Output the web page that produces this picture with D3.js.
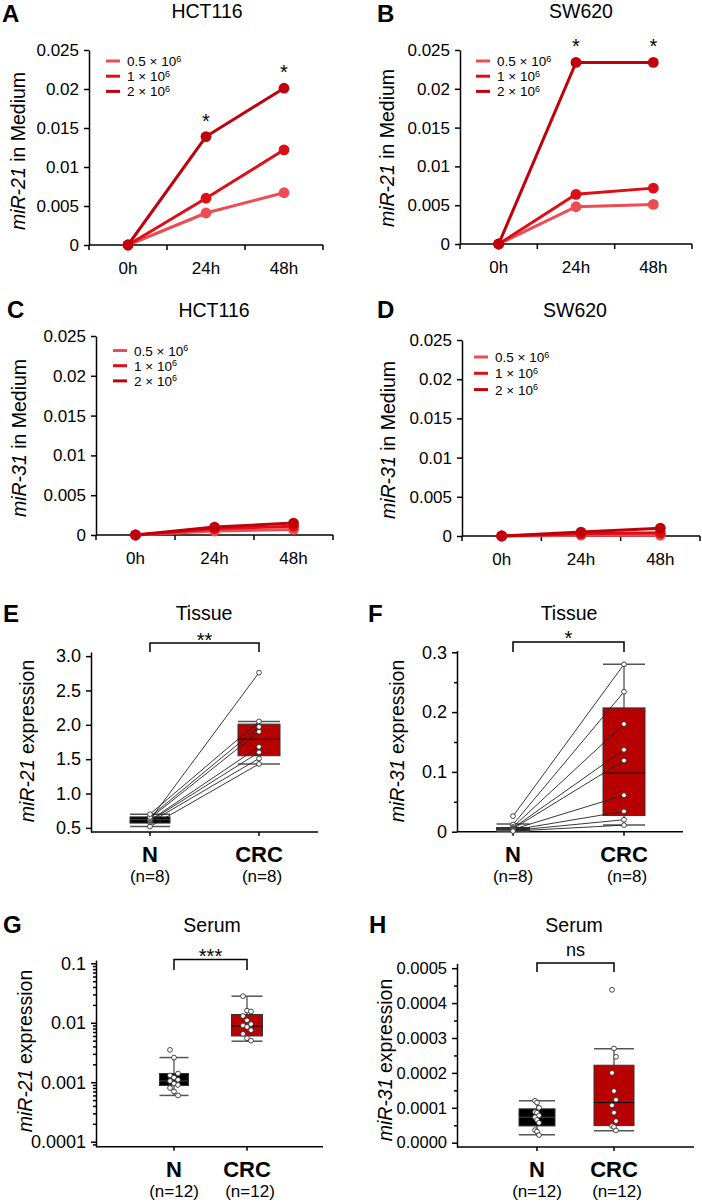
<!DOCTYPE html>
<html>
<head>
<meta charset="utf-8">
<script src="https://cdn.jsdelivr.net/npm/d3@7"></script>
<style>
body { margin: 0; background: #fff; }
svg { font-family: Arial, "Liberation Sans", sans-serif; }
</style>
</head>
<body>
<svg id="fig" width="702" height="1203"></svg>
<script>
// ---- data ----
var times = ['0h', '24h', '48h'];
var densities = ['0.5', '1', '2'];          // x 10^6 cells
var seriesColors = ['#ef4b53', '#de0d16', '#c0000a'];
var mediumTicks = [0, 0.005, 0.01, 0.015, 0.02, 0.025];

// rows = densities, columns = times
var hct116miR21 = [[0, 0.0041, 0.0067], [0, 0.0060, 0.0122], [0, 0.0139, 0.0201]];
var sw620miR21  = [[0, 0.0048, 0.0051], [0, 0.0064, 0.0072], [0, 0.0234, 0.0234]];
var hct116miR31 = [[0, 0.0005, 0.0007], [0, 0.0008, 0.0011], [0, 0.0010, 0.0015]];
var sw620miR31  = [[0, 0.0001, 0.0001], [0, 0.0003, 0.0004], [0, 0.0005, 0.0010]];
var starsA = ['', '*', '*'];
var starsB = ['', '*', '*'];

var groups = ['N', 'CRC'];
var groupColors = ['#000000', '#b70000'];
var tissueN = ['(n=8)', '(n=8)'];
var serumN = ['(n=12)', '(n=12)'];

// tissue, paired samples (same index = same patient)
var tissue21N   = [0.52, 0.58, 0.60, 0.61, 0.62, 0.64, 0.66, 0.70];
var tissue21CRC = [1.43, 1.51, 1.60, 1.68, 2.76, 1.90, 1.97, 2.05];
var tissue21BoxN   = [0.52, 0.57, 0.62, 0.66, 0.70];   // low, q1, median, q3, high
var tissue21BoxCRC = [1.43, 1.55, 1.79, 2.01, 2.05];

var tissue31N   = [0.026, 0.012, 0.008, 0.006, 0.005, 0.004, 0.003, 0.002, 0.001];
var tissue31CRC = [0.280, 0.234, 0.180, 0.137, 0.119, 0.061, 0.034, 0.020, 0.011];
var tissue31BoxN   = [0.001, 0.003, 0.005, 0.007, 0.013];
var tissue31BoxCRC = [0.011, 0.027, 0.098, 0.207, 0.280];

var serum21N   = [0.0035, 0.0026, 0.0014, 0.0013, 0.0012, 0.0011, 0.00105, 0.00095, 0.0009, 0.0008, 0.0007, 0.0006];
var serum21CRC = [0.028, 0.016, 0.0155, 0.013, 0.011, 0.0095, 0.009, 0.0085, 0.0075, 0.0065, 0.0055, 0.005];
var serum21BoxN   = [0.0006, 0.00088, 0.00105, 0.0014, 0.0026];
var serum21BoxCRC = [0.0049, 0.006, 0.0088, 0.0138, 0.028];

var serum31N   = [0.00012, 0.000115, 0.0001, 0.000088, 0.000086, 0.000078, 0.000073, 0.000065, 0.000057, 0.000036, 0.000032, 0.000022];
var serum31CRC = [0.000438, 0.00027, 0.000246, 0.0002, 0.000148, 0.000123, 0.000107, 0.000086, 0.000062, 0.000048, 0.000045, 0.000035];
var serum31BoxN   = [0.000023, 0.000048, 0.000073, 0.000097, 0.00012];
var serum31BoxCRC = [0.0000345, 0.000049, 0.000115, 0.000222, 0.000269];

var svg = d3.select('#fig');

function styleAxis(sel, size){
  sel.selectAll('path,line').attr('stroke', '#000').attr('stroke-width', 1.5);
  sel.selectAll('text').attr('fill', '#000').attr('font-size', size);
  sel.attr('font-family', null);
}

function yLabel(g, cx, cy, gene, rest){
  var t = g.append('text')
    .attr('transform', 'translate(' + cx + ',' + cy + ') rotate(-90)')
    .attr('text-anchor', 'middle').attr('dy', '0.35em').attr('font-size', 19.5);
  t.append('tspan').attr('font-style', 'italic').text(gene);
  t.append('tspan').text('\u00a0' + rest);
}

function panelText(g, p){
  g.append('text').attr('x', p.letterX).attr('y', p.letterY)
    .attr('font-size', 24).attr('font-weight', 'bold').text(p.letter);
  g.append('text').attr('x', p.titleX).attr('y', p.titleY)
    .attr('text-anchor', 'middle').attr('font-size', 19.5).text(p.title);
}

function linePanel(p){
  var g = svg.append('g');
  var x = d3.scaleBand().domain(times).range([p.x0, p.x1]);
  var y = d3.scaleLinear().domain([0, 0.025]).range([p.y0, p.yTop]);
  var cx = function(j){ return x(times[j]) + x.bandwidth() / 2; };

  var ya = g.append('g').attr('transform', 'translate(' + p.x0 + ',0)')
    .call(d3.axisLeft(y).tickValues(mediumTicks).tickSize(5).tickSizeOuter(0).tickPadding(5)
      .tickFormat(function(d){ return d === 0 ? '0' : String(d); }));
  styleAxis(ya, 17);

  g.append('line').attr('x1', p.x0).attr('x2', p.x1).attr('y1', p.y0).attr('y2', p.y0)
    .attr('stroke', '#000').attr('stroke-width', 1.5);
  var edges = times.map(function(t){ return x(t); }).concat([p.x1]);
  g.selectAll('.xt').data(edges).enter().append('line')
    .attr('x1', function(d){ return d; }).attr('x2', function(d){ return d; })
    .attr('y1', p.y0).attr('y2', p.y0 + 5).attr('stroke', '#000').attr('stroke-width', 1.5);
  g.selectAll('.xl').data(times).enter().append('text')
    .attr('x', function(d, j){ return cx(j); }).attr('y', p.y0 + 29)
    .attr('text-anchor', 'middle').attr('font-size', 17).text(function(d){ return d; });

  var line = d3.line().x(function(d, j){ return cx(j); }).y(function(d){ return y(d); });
  p.data.forEach(function(vals, i){
    g.append('path').attr('d', line(vals)).attr('fill', 'none')
      .attr('stroke', seriesColors[i]).attr('stroke-width', 3);
    g.selectAll('.pt' + i).data(vals).enter().append('circle')
      .attr('cx', function(d, j){ return cx(j); }).attr('cy', function(d){ return y(d); })
      .attr('r', 5.4).attr('fill', seriesColors[i]);
  });

  if (p.stars){
    var top = p.data[p.data.length - 1];
    p.stars.forEach(function(s, j){
      if (!s) return;
      g.append('text').attr('x', cx(j)).attr('y', y(top[j]) - 9)
        .attr('text-anchor', 'middle').attr('font-size', 20).text(s);
    });
  }

  densities.forEach(function(d, i){
    var ly = p.legY + i * p.legDy;
    g.append('line').attr('x1', p.legX).attr('x2', p.legX + 14).attr('y1', ly).attr('y2', ly)
      .attr('stroke', seriesColors[i]).attr('stroke-width', 3);
    var t = g.append('text').attr('x', p.legX + 21).attr('y', ly + 5).attr('font-size', 13.5);
    t.append('tspan').text(d + ' \u00d7 10');
    t.append('tspan').attr('dy', -4.5).attr('font-size', 9).text('6');
  });

  panelText(g, p);
  yLabel(g, p.labX, p.labY, p.gene, 'in Medium');
}

function boxPanel(p){
  var g = svg.append('g');
  var x = d3.scalePoint().domain(groups).range([p.xN, p.xCRC]);
  var y = (p.log ? d3.scaleLog() : d3.scaleLinear()).domain(p.domain).range([p.yBottom, p.yTop]);

  var ya = g.append('g').attr('transform', 'translate(' + p.ax + ',0)')
    .call(d3.axisLeft(y).tickValues(p.ticks).tickSize(5).tickSizeOuter(0).tickPadding(5).tickFormat(p.fmt));
  styleAxis(ya, p.tickFont || 18);
  if (p.minor){
    var ym = g.append('g').attr('transform', 'translate(' + p.ax + ',0)')
      .call(d3.axisLeft(y).tickValues(p.minor).tickSize(3).tickFormat(''));
    ym.select('.domain').remove();
    styleAxis(ym, 10);
  }

  g.append('line').attr('x1', p.ax).attr('x2', p.xEnd).attr('y1', p.yBottom).attr('y2', p.yBottom)
    .attr('stroke', '#000').attr('stroke-width', 1.5);
  groups.forEach(function(k, i){
    g.append('line').attr('x1', x(k)).attr('x2', x(k)).attr('y1', p.yBottom).attr('y2', p.yBottom + 4)
      .attr('stroke', '#000').attr('stroke-width', 1.5);
    g.append('text').attr('x', x(k)).attr('y', p.catY).attr('text-anchor', 'middle')
      .attr('font-size', 22).attr('font-weight', 'bold').text(k);
    g.append('text').attr('x', x(k) + (i ? 3 : 0)).attr('y', p.catY + 20).attr('text-anchor', 'middle')
      .attr('font-size', 17).text(p.nLabels[i]);
  });

  // boxes
  groups.forEach(function(k, i){
    var b = p.boxes[i], w = p.boxW[i], c = x(k);
    g.append('line').attr('x1', c).attr('x2', c).attr('y1', y(b[0])).attr('y2', y(b[4]))
      .attr('stroke', '#444').attr('stroke-width', 1.2);
    [b[0], b[4]].forEach(function(v){
      g.append('line').attr('x1', c - w / 2).attr('x2', c + w / 2).attr('y1', y(v)).attr('y2', y(v))
        .attr('stroke', '#555').attr('stroke-width', 1.5);
    });
    g.append('rect').attr('x', c - w / 2).attr('width', w)
      .attr('y', y(b[3])).attr('height', y(b[1]) - y(b[3]))
      .attr('fill', groupColors[i]).attr('stroke', '#333').attr('stroke-width', 1);
    g.append('line').attr('x1', c - w / 2).attr('x2', c + w / 2).attr('y1', y(b[2])).attr('y2', y(b[2]))
      .attr('stroke', i ? '#000' : '#444').attr('stroke-width', 1);
  });

  if (p.paired){
    p.points[0].forEach(function(v, j){
      g.append('line').attr('x1', x('N')).attr('y1', y(v)).attr('x2', x('CRC')).attr('y2', y(p.points[1][j]))
        .attr('stroke', '#222').attr('stroke-width', 0.9);
    });
  }
  groups.forEach(function(k, i){
    g.selectAll('.p' + i).data(p.points[i]).enter().append('circle')
      .attr('cx', function(d, j){ return x(k) + ((j % 3) - 1) * p.jitter; })
      .attr('cy', function(d){ return y(d); })
      .attr('r', 2.4).attr('fill', '#fff').attr('stroke', '#333').attr('stroke-width', 0.9);
  });

  // significance bracket
  g.append('path')
    .attr('d', 'M' + x('N') + ',' + p.brLow + 'V' + p.brTop + 'H' + x('CRC') + 'V' + p.brLow)
    .attr('fill', 'none').attr('stroke', '#000').attr('stroke-width', 1.5);
  g.append('text').attr('x', (x('N') + x('CRC')) / 2).attr('y', p.sigY)
    .attr('text-anchor', 'middle').attr('font-size', p.sig === 'ns' ? 18 : 20).text(p.sig);

  panelText(g, p);
  yLabel(g, p.labX, p.labY, p.gene, 'expression');
}

linePanel({letter: 'A', title: 'HCT116', gene: 'miR-21', data: hct116miR21, stars: starsA,
  x0: 89, x1: 323, yTop: 50, y0: 245, letterX: 2, letterY: 22, titleX: 207, titleY: 18,
  labX: 18, labY: 151, legX: 106, legY: 61, legDy: 15.2});
linePanel({letter: 'B', title: 'SW620', gene: 'miR-21', data: sw620miR21, stars: starsB,
  x0: 460, x1: 692, yTop: 50, y0: 244, letterX: 377, letterY: 22, titleX: 581, titleY: 18,
  labX: 387, labY: 148, legX: 476, legY: 61, legDy: 15.2});
linePanel({letter: 'C', title: 'HCT116', gene: 'miR-31', data: hct116miR31,
  x0: 96, x1: 333, yTop: 336, y0: 535, letterX: 7, letterY: 318, titleX: 214, titleY: 317,
  labX: 19, labY: 438, legX: 113, legY: 350.5, legDy: 15.2});
linePanel({letter: 'D', title: 'SW620', gene: 'miR-31', data: sw620miR31,
  x0: 462, x1: 700, yTop: 340, y0: 536, letterX: 377, letterY: 318, titleX: 575, titleY: 317,
  labX: 388, labY: 440, legX: 474, legY: 357, legDy: 16.3});

boxPanel({letter: 'E', title: 'Tissue', gene: 'miR-21', paired: true, jitter: 0, nLabels: tissueN,
  points: [tissue21N, tissue21CRC], boxes: [tissue21BoxN, tissue21BoxCRC], boxW: [40, 42],
  domain: [0.44, 3.06], ticks: [0.5, 1, 1.5, 2, 2.5, 3], fmt: d3.format('.1f'),
  ax: 91, xEnd: 318, xN: 150, xCRC: 259, yBottom: 832, yTop: 652, catY: 862,
  brTop: 643, brLow: 652, sig: '**', sigY: 647,
  letterX: 3, letterY: 622, titleX: 204, titleY: 620, labX: 27, labY: 741});
boxPanel({letter: 'F', title: 'Tissue', gene: 'miR-31', paired: true, jitter: 0, nLabels: tissueN,
  points: [tissue31N, tissue31CRC], boxes: [tissue31BoxN, tissue31BoxCRC], boxW: [33, 42],
  domain: [0, 0.303], ticks: [0, 0.1, 0.2, 0.3], minor: [0.05, 0.15, 0.25],
  fmt: function(d){ return d === 0 ? '0' : String(d); },
  ax: 457, xEnd: 683, xN: 513, xCRC: 624, yBottom: 831.7, yTop: 650.5, catY: 862,
  brTop: 642, brLow: 652, sig: '*', sigY: 645,
  letterX: 368, letterY: 622, titleX: 569, titleY: 620, labX: 397, labY: 741});

var logMinor = [];
[-5, -4, -3, -2].forEach(function(e){
  for (var m = 2; m < 10; m++) logMinor.push(m * Math.pow(10, e));
});
logMinor = logMinor.filter(function(v){ return v > 8.3e-5 && v < 0.11; });

boxPanel({letter: 'G', title: 'Serum', gene: 'miR-21', paired: false, jitter: 4, log: true, nLabels: serumN,
  points: [serum21N, serum21CRC], boxes: [serum21BoxN, serum21BoxCRC], boxW: [29, 31],
  domain: [8.24e-5, 0.1137], ticks: [0.0001, 0.001, 0.01, 0.1], minor: logMinor,
  fmt: function(d){ return String(d); },
  ax: 96, xEnd: 323, xN: 174, xCRC: 247, yBottom: 1146.7, yTop: 960, catY: 1177,
  brTop: 959.5, brLow: 970, sig: '***', sigY: 963,
  letterX: 3, letterY: 933, titleX: 212, titleY: 932, labX: 25, labY: 1051});
boxPanel({letter: 'H', title: 'Serum', gene: 'miR-31', paired: false, jitter: 2, nLabels: serumN, tickFont: 16.5,
  points: [serum31N, serum31CRC], boxes: [serum31BoxN, serum31BoxCRC], boxW: [36, 40],
  domain: [-0.0000123, 0.000514], ticks: [0, 0.0001, 0.0002, 0.0003, 0.0004, 0.0005],
  minor: [0.00005, 0.00015, 0.00025, 0.00035, 0.00045], fmt: d3.format('.4f'),
  ax: 457, xEnd: 694, xN: 537, xCRC: 614, yBottom: 1147, yTop: 963.3, catY: 1177,
  brTop: 963, brLow: 972, sig: 'ns', sigY: 956,
  letterX: 369, letterY: 933, titleX: 574, titleY: 932, labX: 385, labY: 1060});
</script>
</body>
</html>
